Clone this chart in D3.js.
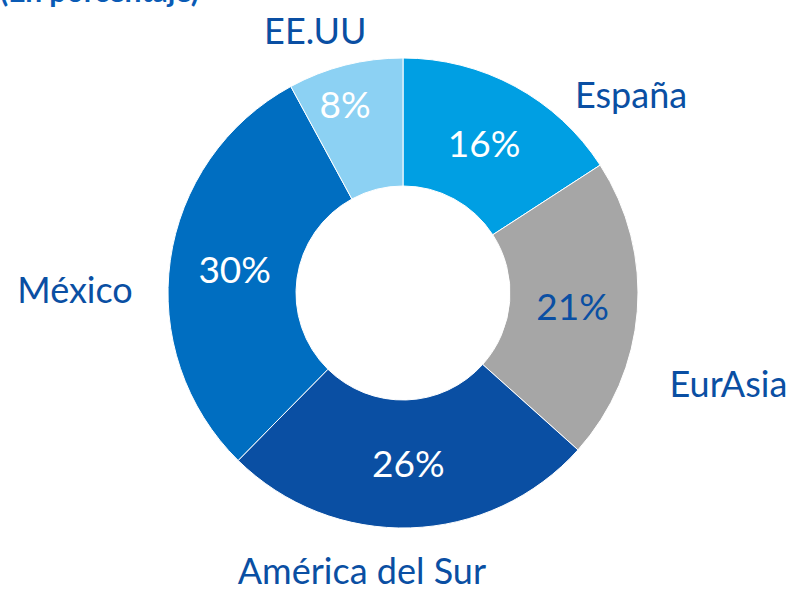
<!DOCTYPE html>
<html><head><meta charset="utf-8">
<script src="https://cdn.jsdelivr.net/npm/d3@7"></script>
<style>body{margin:0;background:#fff}svg{display:block}</style>
</head><body><svg id="c" width="796" height="589"></svg>
<script>
const categories = ["España", "EurAsia", "América del Sur", "México", "EE.UU"];
const values = [16, 21, 26, 30, 8];
const valueLabels = ["16%", "21%", "26%", "30%", "8%"];
const title = "(En porcentaje)";

const colors = ["#009FE3", "#A6A6A6", "#0A4FA3", "#006EC1", "#8CD1F3"];
const pctColors = ["#fff", "#0A4FA3", "#fff", "#fff", "#fff"];
// outer label placement: fraction within slice, radius
const labelPlace = [[0.86, 302], [0.65, 338], [0.61, 281], [0.43, 328], [0.35, 276]];
// percent label placement: fraction within slice, radius
const pctPlace = [[0.5, 170], [0.5, 170], [0.5, 171], [0.5, 170], [0.4, 197]];

const svg = d3.select("#c");
const cx = 403, cy = 293, R = 235, r0 = 107;
const g = svg.append("g").attr("transform", `translate(${cx},${cy})`);
const pie = d3.pie().sort(null).value(d => d.v);
const data = pie(categories.map((c, i) => ({c, v: values[i], i})));
const arc = d3.arc().innerRadius(r0).outerRadius(R);

function place(d, fr) {
  const [f, rr] = fr;
  const a = d.startAngle + f * (d.endAngle - d.startAngle);
  return `translate(${rr * Math.sin(a)},${-rr * Math.cos(a)})`;
}

g.selectAll("path").data(data).join("path")
  .attr("d", arc).attr("fill", d => colors[d.data.i])
  .attr("stroke", "#fff").attr("stroke-width", 1);

g.selectAll("text.pct").data(data).join("text").attr("class", "pct")
  .attr("transform", d => place(d, pctPlace[d.data.i]))
  .attr("text-anchor", "middle").attr("dy", "0.36em")
  .attr("font-family", "Lato, sans-serif").attr("font-size", 37)
  .attr("fill", d => pctColors[d.data.i])
  .text(d => valueLabels[d.data.i]);

g.selectAll("text.lab").data(data).join("text").attr("class", "lab")
  .attr("transform", d => place(d, labelPlace[d.data.i]))
  .attr("text-anchor", "middle").attr("dy", "0.36em")
  .attr("font-family", "Lato, sans-serif").attr("font-size", 36)
  .attr("fill", "#0A4FA3")
  .text(d => d.data.c);

svg.append("text").attr("x", 0).attr("y", 2)
  .attr("font-family", "Lato, sans-serif").attr("font-weight", "bold").attr("font-size", 30)
  .attr("fill", "#0A5BB5").text(title);
</script></body></html>
